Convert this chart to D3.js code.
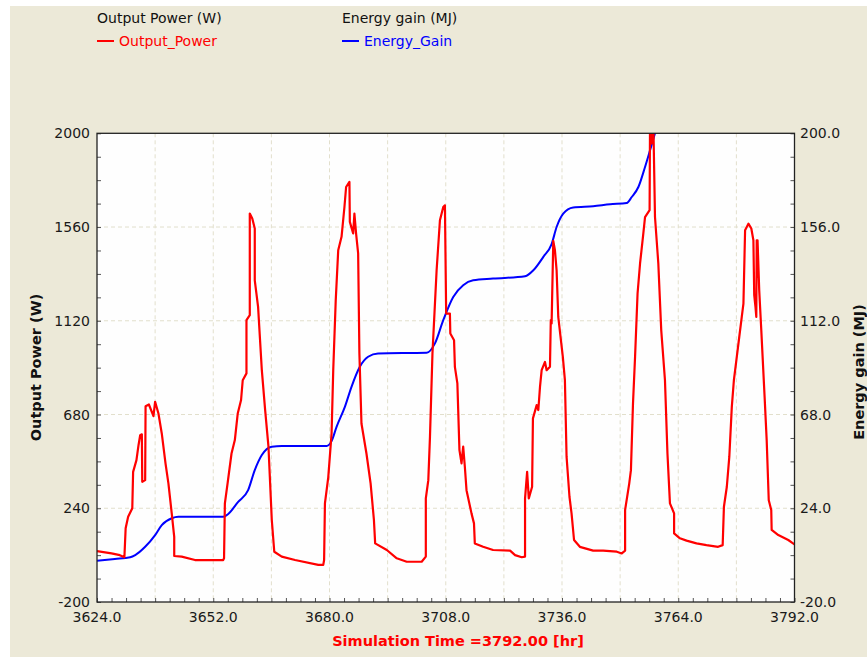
<!DOCTYPE html>
<html>
<head>
<meta charset="utf-8">
<script src="https://cdn.jsdelivr.net/npm/d3@7"></script>
<style>
  body { margin: 0; background: #fff; }
  svg { display: block; font-family: "DejaVu Sans", Verdana, sans-serif; }
</style>
</head>
<body>
<div id="chart"></div>
<script>
// Output power (W)
const powerTime = [
  3624.0, 3627.5, 3629.5, 3630.6, 3630.9, 3631.5, 3632.5, 3632.7, 3633.5, 3634.0,
  3634.4, 3634.8, 3634.9, 3635.6, 3635.7, 3636.5, 3637.6, 3638.0, 3638.8, 3639.6,
  3640.5, 3641.2, 3642.0, 3642.6, 3642.6, 3644.4, 3647.6, 3654.4, 3654.6, 3654.8,
  3655.5, 3656.4, 3657.2, 3657.9, 3658.7, 3659.1, 3660.0, 3660.0, 3660.8, 3660.8,
  3661.4, 3662.0, 3662.0, 3662.8, 3663.7, 3664.5, 3665.3, 3666.1, 3666.7, 3668.5,
  3671.7, 3677.3, 3678.5, 3678.7, 3678.9, 3679.7, 3680.5, 3680.9, 3681.5, 3682.1,
  3682.9, 3683.6, 3684.0, 3684.8, 3684.9, 3685.7, 3686.0, 3686.4, 3686.9, 3687.2,
  3687.7, 3688.9, 3689.9, 3690.7, 3691.0, 3693.8, 3696.2, 3698.6, 3702.2, 3703.2,
  3703.2, 3703.8, 3704.2, 3704.8, 3705.8, 3706.6, 3707.4, 3707.8, 3708.1, 3709.0,
  3709.1, 3710.0, 3710.2, 3710.8, 3711.3, 3711.8, 3712.2, 3712.6, 3713.0, 3714.2,
  3714.8, 3715.0, 3717.0, 3719.4, 3723.5, 3724.7, 3726.3, 3727.1, 3727.1, 3727.6,
  3728.0, 3728.8, 3729.0, 3729.9, 3730.3, 3730.7, 3731.1, 3731.9, 3732.3, 3733.1,
  3733.3, 3733.5, 3733.9, 3734.3, 3734.7, 3735.1, 3736.2, 3736.7, 3737.1, 3737.8,
  3738.3, 3738.9, 3740.3, 3743.5, 3745.9, 3749.2, 3750.4, 3751.2, 3751.2, 3752.2,
  3752.6, 3753.1, 3753.6, 3754.2, 3754.8, 3755.5, 3756.0, 3757.1, 3757.2, 3757.6,
  3758.0, 3758.4, 3759.2, 3759.9, 3760.8, 3761.4, 3762.0, 3763.0, 3763.0, 3764.4,
  3766.0, 3768.4, 3770.8, 3773.6, 3774.7, 3775.0, 3775.7, 3776.3, 3776.9, 3777.4,
  3778.1, 3778.7, 3779.3, 3779.7, 3780.1, 3780.9, 3781.6, 3782.1, 3782.3, 3782.6,
  3782.8, 3782.9, 3783.0, 3783.1, 3783.5, 3784.0, 3784.8, 3785.3, 3785.8, 3786.4,
  3786.5, 3788.1, 3790.5, 3792.0
];
const powerW = [
  39, 28, 20, 10, 146, 200, 240, 411, 466, 536,
  583, 587, 364, 372, 719, 727, 672, 740, 685, 591,
  451, 357, 216, 106, 16, 13, -3, -3, 5, 263,
  364, 497, 560, 685, 748, 841, 873, 1123, 1146, 1623,
  1600, 1553, 1310, 1185, 888, 701, 529, 185, 36, 13,
  -3, -26, -26, -3, 263, 385, 590, 888, 1215, 1451,
  1514, 1654, 1748, 1772, 1584, 1530, 1623, 1530, 1436, 967,
  638, 497, 357, 185, 75, 44, 5, -11, -11, 13,
  286, 372, 575, 967, 1357, 1592, 1654, 1662, 1154, 1154,
  1060, 1029, 904, 826, 513, 451, 529, 435, 325, 216,
  169, 75, 59, 44, 41, 20, 10, 13, 286, 411,
  286, 341, 662, 724, 701, 810, 888, 927, 888, 904,
  1123, 1107, 1495, 1451, 1357, 1138, 951, 841, 482, 294,
  216, 91, 59, 41, 41, 36, 28, 41, 232, 357,
  419, 732, 951, 1248, 1389, 1514, 1607, 1639, 2050, 1952,
  2050, 1607, 1389, 1076, 841, 497, 263, 216, 122, 99,
  88, 75, 67, 59, 67, 247, 341, 482, 716, 841,
  951, 1045, 1138, 1201, 1545, 1576, 1553, 1498, 1240, 1185,
  1138, 1498, 1326, 1498, 1264, 1076, 763, 560, 278, 232,
  138, 114, 91, 70
];

// Cumulative energy gain (MJ)
const energyTime = [
  3624.0, 3628.3, 3632.0, 3633.2, 3635.6, 3638.0, 3639.6, 3642.0, 3643.6, 3654.4,
  3655.6, 3658.0, 3660.4, 3662.0, 3663.7, 3666.1, 3668.5, 3679.3, 3680.5, 3681.7,
  3683.7, 3685.3, 3687.3, 3689.3, 3691.7, 3703.4, 3705.4, 3707.4, 3709.8, 3712.2,
  3714.6, 3719.4, 3727.1, 3729.1, 3731.5, 3733.5, 3734.7, 3736.3, 3738.7, 3743.5,
  3747.6, 3751.6, 3752.8, 3754.4, 3756.0, 3757.2, 3758.4, 3759.5
];
const energyMJ = [
  -0.6, 0.2, 1.0, 2.0, 5.9, 11.4, 16.1, 19.3, 20.0, 20.0,
  21.3, 27.0, 32.5, 41.9, 49.0, 52.9, 53.2, 53.2, 55.5, 62.2,
  71.6, 81.0, 90.4, 95.1, 96.7, 97.0, 101.4, 112.3, 123.2, 128.7,
  131.0, 131.8, 132.9, 135.7, 142.0, 148.0, 156.0, 162.3, 165.2, 165.8,
  166.7, 167.3, 170.1, 174.8, 184.2, 192.0, 200.0, 207.0
];

// axis ticks
const xLabels = [3624, 3652, 3680, 3708, 3736, 3764, 3792];
const yLeftLabels = [-200, 240, 680, 1120, 1560, 2000];
const yRightLabels = [-20, 24, 68, 112, 156, 200];

const width = 867, height = 657;
const plot = { left: 97, right: 794.5, top: 133.3, bottom: 602 };

const x = d3.scaleLinear().domain([3624, 3792]).range([plot.left, plot.right]);
const yL = d3.scaleLinear().domain([-200, 2000]).range([plot.bottom, plot.top]);
const yR = d3.scaleLinear().domain([-20, 200]).range([plot.bottom, plot.top]);

const svg = d3.select("#chart").append("svg")
  .attr("width", width)
  .attr("height", height);

// window background
svg.append("rect").attr("x", 10).attr("y", 6)
  .attr("width", width - 10).attr("height", height - 6)
  .attr("fill", "#ece9d8");

svg.append("rect")
  .attr("x", plot.left).attr("y", plot.top)
  .attr("width", plot.right - plot.left).attr("height", plot.bottom - plot.top)
  .attr("fill", "#fefefe");

// grid (dashed)
const grid = svg.append("g").attr("stroke", "#e2dfcc").attr("stroke-dasharray", "4,3");
grid.selectAll(".vg")
  .data(d3.range(3638, 3792, 14))
  .enter().append("line")
  .attr("x1", d => x(d)).attr("x2", d => x(d))
  .attr("y1", plot.top).attr("y2", plot.bottom);
grid.selectAll(".hg")
  .data(yLeftLabels.slice(1, -1))
  .enter().append("line")
  .attr("x1", plot.left).attr("x2", plot.right)
  .attr("y1", d => yL(d)).attr("y2", d => yL(d));

// minor ticks, drawn inward
const minorX = d3.range(3624, 3792.1, 3.5);
const minorY = d3.range(-200, 2000.1, 110);
svg.append("g")
  .attr("transform", `translate(0,${plot.bottom})`)
  .call(d3.axisBottom(x).tickValues(minorX).tickSize(-4).tickFormat(""))
  .call(g => g.select(".domain").remove())
  .selectAll("line").attr("stroke", "#555");
svg.append("g")
  .attr("transform", `translate(${plot.left},0)`)
  .call(d3.axisLeft(yL).tickValues(minorY).tickSize(-4).tickFormat(""))
  .call(g => g.select(".domain").remove())
  .selectAll("line").attr("stroke", "#555");
svg.append("g")
  .attr("transform", `translate(${plot.right},0)`)
  .call(d3.axisRight(yL).tickValues(minorY).tickSize(-4).tickFormat(""))
  .call(g => g.select(".domain").remove())
  .selectAll("line").attr("stroke", "#555");

// tick labels
svg.append("g").selectAll("text")
  .data(xLabels).enter().append("text")
  .attr("x", d => x(d)).attr("y", 622)
  .attr("text-anchor", "middle")
  .attr("font-size", 14).attr("fill", "#1a1a1a")
  .text(d => d.toFixed(1));
svg.append("g").selectAll("text")
  .data(yLeftLabels).enter().append("text")
  .attr("x", 90).attr("y", d => yL(d) + 5)
  .attr("text-anchor", "end")
  .attr("font-size", 14).attr("fill", "#1a1a1a")
  .text(d => d);
svg.append("g").selectAll("text")
  .data(yRightLabels).enter().append("text")
  .attr("x", 800).attr("y", d => yR(d) + 5)
  .attr("font-size", 14).attr("fill", "#1a1a1a")
  .text(d => d.toFixed(1));

// series
svg.append("clipPath").attr("id", "clip")
  .append("rect")
  .attr("x", plot.left).attr("y", plot.top)
  .attr("width", plot.right - plot.left).attr("height", plot.bottom - plot.top);

const powerLine = d3.line().x(d => x(d[0])).y(d => yL(d[1]));
const energyLine = d3.line().x(d => x(d[0])).y(d => yR(d[1])).curve(d3.curveMonotoneX);

const series = svg.append("g").attr("clip-path", "url(#clip)").attr("fill", "none");
series.append("path")
  .datum(d3.zip(energyTime, energyMJ))
  .attr("stroke", "#0000ff").attr("stroke-width", 2)
  .attr("stroke-linejoin", "round")
  .attr("d", energyLine);
series.append("path")
  .datum(d3.zip(powerTime, powerW))
  .attr("stroke", "#ff0000").attr("stroke-width", 2.2)
  .attr("stroke-linejoin", "round")
  .attr("d", powerLine);

// frame
svg.append("rect")
  .attr("x", plot.left).attr("y", plot.top)
  .attr("width", plot.right - plot.left).attr("height", plot.bottom - plot.top)
  .attr("fill", "none").attr("stroke", "#222").attr("stroke-width", 1.3);

// axis titles
svg.append("text")
  .attr("x", 458).attr("y", 646)
  .attr("text-anchor", "middle")
  .attr("font-size", 14.5).attr("font-weight", "bold").attr("fill", "#ff0000")
  .text("Simulation Time =3792.00 [hr]");
svg.append("text")
  .attr("transform", "translate(41,367.5) rotate(-90)")
  .attr("text-anchor", "middle")
  .attr("font-size", 14.5).attr("font-weight", "bold").attr("fill", "#111")
  .text("Output Power (W)");
svg.append("text")
  .attr("transform", "translate(864,372) rotate(-90)")
  .attr("text-anchor", "middle")
  .attr("font-size", 14.5).attr("font-weight", "bold").attr("fill", "#111")
  .text("Energy gain (MJ)");

// legend
const legendItems = [
  { title: "Output Power (W)", name: "Output_Power", color: "#ff0000", x: 97 },
  { title: "Energy gain (MJ)", name: "Energy_Gain", color: "#0000ff", x: 342 }
];
const legend = svg.append("g").selectAll("g")
  .data(legendItems).enter().append("g")
  .attr("transform", d => `translate(${d.x},0)`);
legend.append("text")
  .attr("y", 23).attr("font-size", 14).attr("fill", "#111")
  .text(d => d.title);
legend.append("line")
  .attr("x1", 0).attr("x2", 17).attr("y1", 41).attr("y2", 41)
  .attr("stroke", d => d.color).attr("stroke-width", 2);
legend.append("text")
  .attr("x", 22).attr("y", 46).attr("font-size", 14)
  .attr("fill", d => d.color)
  .text(d => d.name);
</script>
</body>
</html>
